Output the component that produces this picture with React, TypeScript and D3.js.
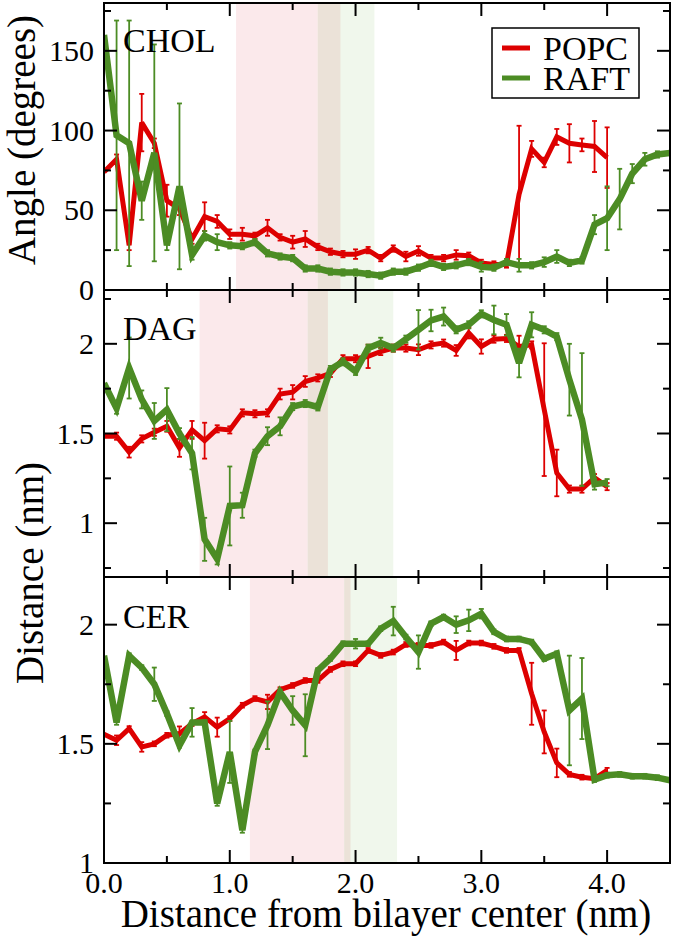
import React from 'react';
import * as d3 from 'd3';

const DIST = [0.0,0.1,0.2,0.3,0.4,0.5,0.6,0.7,0.8,0.9,1.0,1.1,1.2,1.3,1.4,1.5,1.6,1.7,1.8,1.9,2.0,2.1,2.2,2.3,2.4,2.5,2.6,2.7,2.8,2.9,3.0,3.1,3.2,3.3,3.4,3.5,3.6,3.7,3.8,3.9,4.0,4.1,4.2,4.3,4.4,4.5];

const PANEL_NAMES = ['CHOL', 'DAG', 'CER'];
const SERIES_NAMES = ['POPC', 'RAFT'];

// CHOL angle (degrees)
const CHOL_POPC = [74,82,28,105,92,56,51,32,46,43,35,35,34,39,33,30,32,27,24,22.5,22.5,25,20,26,21,24.5,20,20,22,21.5,17,16,16,60,88.5,80,96,92,91,90,83];
const CHOL_POPC_ERR = [0,3,3,18,3,10,4,3,9,4,3,4,2,5,2,4,5,2,2,2,3,2,2,2,3,3,2,2,3,2,2,2,2,43,5,3,5,12,4,16,19];
const CHOL_RAFT = [160,97,92,56,86,28,65,22,34,30,28,27.5,30,23,21,20,13.5,13.5,11.5,11,11,10,9,11.5,11.5,14,17,14.5,15.5,17.5,14.5,14,17.5,15.5,15.5,17.5,21,17,18.5,41,45,57,73,82,85,86];
const CHOL_RAFT_ERR = [0,72,77,12,68,3,52,3,3,5,2,2,2,2,2,2,2,2,2,2,2,2,2,2,2,2,2,2,2,2,3,2,2,4,2,3,4,2,2,6,20,19,6,4,2,0];

// DAG distance (nm)
const DAG_POPC = [1.485,1.485,1.396,1.47,1.507,1.54,1.42,1.52,1.46,1.526,1.52,1.615,1.61,1.615,1.72,1.73,1.79,1.81,1.835,1.917,1.917,1.93,1.957,1.976,1.976,1.967,1.994,2.004,1.963,2.06,1.985,2.026,2.03,1.985,1.994,1.633,1.28,1.19,1.19,1.254,1.204];
const DAG_POPC_ERR = [0,0.02,0.03,0.02,0.02,0.03,0.05,0.05,0.1,0.02,0.02,0.02,0.02,0.02,0.03,0.04,0.03,0.02,0.02,0.02,0.02,0.065,0.02,0.02,0.02,0.03,0.02,0.02,0.03,0.03,0.04,0.02,0.02,0.06,0.02,0.37,0.13,0.02,0.02,0.02,0.02];
const DAG_RAFT = [1.78,1.64,1.865,1.69,1.57,1.633,1.50,1.39,0.91,0.80,1.096,1.10,1.39,1.485,1.54,1.65,1.667,1.648,1.857,1.90,1.846,1.976,2.004,1.976,2.026,2.078,2.13,2.152,2.078,2.106,2.167,2.133,2.106,1.893,2.106,2.078,2.04,1.80,1.578,1.217,1.226];
const DAG_RAFT_ERR = [0,0.03,0.17,0.05,0.1,0.12,0.03,0.09,0.12,0.03,0.22,0.07,0.02,0.05,0.05,0.02,0.02,0.02,0.02,0.02,0.02,0.02,0.03,0.02,0.02,0.11,0.06,0.05,0.02,0.02,0.02,0.08,0.06,0.08,0.07,0.02,0.02,0.2,0.37,0.03,0.02];

// CER distance (nm)
const CER_POPC = [1.54,1.515,1.564,1.487,1.50,1.536,1.543,1.585,1.613,1.57,1.606,1.662,1.69,1.676,1.727,1.745,1.766,1.766,1.812,1.836,1.836,1.892,1.871,1.885,1.917,1.913,1.913,1.927,1.892,1.923,1.923,1.909,1.892,1.892,1.71,1.55,1.42,1.372,1.36,1.354,1.389];
const CER_POPC_ERR = [0,0.02,0.01,0.02,0.01,0.01,0.03,0.01,0.02,0.04,0.01,0.01,0.01,0.03,0.01,0.01,0.01,0.01,0.01,0.01,0.01,0.01,0.01,0.01,0.01,0.01,0.01,0.01,0.04,0.01,0.01,0.01,0.01,0.01,0.13,0.09,0.06,0.01,0.01,0.01,0.01];
const CER_RAFT = [1.87,1.59,1.87,1.82,1.75,1.627,1.494,1.59,1.59,1.25,1.466,1.137,1.466,1.578,1.717,1.64,1.578,1.808,1.858,1.92,1.92,1.92,1.983,2.015,1.948,1.885,2.004,2.032,2.0,2.018,2.046,1.97,1.94,1.94,1.927,1.857,1.878,1.64,1.69,1.35,1.368,1.372,1.364,1.364,1.358,1.347];
const CER_RAFT_ERR = [0,0.01,0.01,0.01,0.07,0.01,0.01,0.06,0.01,0.01,0.13,0.01,0.01,0.1,0.01,0.06,0.13,0.01,0.01,0.01,0.02,0.01,0.01,0.06,0.01,0.07,0.01,0.01,0.035,0.045,0.02,0.01,0.01,0.01,0.01,0.01,0.01,0.23,0.17,0.01,0.01,0.01,0.01,0.01,0.01,0];

const SERIES = [
  [[CHOL_POPC, CHOL_POPC_ERR], [CHOL_RAFT, CHOL_RAFT_ERR]],
  [[DAG_POPC, DAG_POPC_ERR], [DAG_RAFT, DAG_RAFT_ERR]],
  [[CER_POPC, CER_POPC_ERR], [CER_RAFT, CER_RAFT_ERR]],
];

const Y_DOMAINS = [[0, 180], [0.7, 2.3], [1, 2.2]];
const Y_MAJOR = [[0, 50, 100, 150], [1, 1.5, 2], [1, 1.5, 2]];
const Y_MINOR = [[25, 75, 125, 175], [0.75, 1.25, 1.75, 2.25], [1.25, 1.75]];
const X_MAJOR = [0, 1, 2, 3, 4];
const X_MINOR = [0.5, 1.5, 2.5, 3.5, 4.5];
const X_LABELS = ['0.0', '1.0', '2.0', '3.0', '4.0'];

const POPC_BAND = [[1.05, 1.88], [0.76, 1.78], [1.16, 1.96]];
const RAFT_BAND = [[1.70, 2.15], [1.62, 2.30], [1.91, 2.33]];

const COLORS = ['#dd0000', '#4c8c24'];
const WIDTHS = [5, 6.5];
const BAND_COLORS = ['#fbe9eb', '#f0f7ec'];
const OVERLAP_COLOR = '#ebe2d8';

const FONT = "'Liberation Serif', 'DejaVu Serif', serif";
const T: React.CSSProperties = { fontFamily: FONT };

const LEFT = 104;
const RIGHT = 670;
const TOPS = [3, 290, 577];
const BOTTOMS = [290, 577, 863];

export default function App() {
  const x = d3.scaleLinear().domain([0, 4.5]).range([LEFT, RIGHT]);

  const panels = PANEL_NAMES.map((name, p) => {
    const y = d3.scaleLinear().domain(Y_DOMAINS[p]).range([BOTTOMS[p], TOPS[p]]);
    const top = TOPS[p];
    const bottom = BOTTOMS[p];
    const [pa, pb] = POPC_BAND[p];
    const [ra, rb] = RAFT_BAND[p];
    const oa = Math.max(pa, ra);
    const ob = Math.min(pb, rb);
    const line = d3.line<number>().x((_, i) => x(DIST[i])).y((v) => y(v));
    return (
      <g key={name}>
        <rect x={x(pa)} y={top} width={x(pb) - x(pa)} height={bottom - top} fill={BAND_COLORS[0]} />
        <rect x={x(ra)} y={top} width={x(rb) - x(ra)} height={bottom - top} fill={BAND_COLORS[1]} />
        {ob > oa && <rect x={x(oa)} y={top} width={x(ob) - x(oa)} height={bottom - top} fill={OVERLAP_COLOR} />}
        <defs>
          <clipPath id={`clip${p}`}>
            <rect x={LEFT} y={top} width={RIGHT - LEFT} height={bottom - top} />
          </clipPath>
        </defs>
        <g clipPath={`url(#clip${p})`}>
          {SERIES[p].map(([vals, errs], s) => (
            <g key={s}>
              <path d={line(vals) || ''} fill="none" stroke={COLORS[s]} strokeWidth={WIDTHS[s]} strokeLinejoin="miter" strokeMiterlimit={3} />
              {vals.map((v, i) =>
                errs[i] > 0 ? (
                  <g key={i} stroke={COLORS[s]} strokeWidth={1.8}>
                    <line x1={x(DIST[i])} x2={x(DIST[i])} y1={y(v - errs[i])} y2={y(v + errs[i])} />
                    <line x1={x(DIST[i]) - 2.5} x2={x(DIST[i]) + 2.5} y1={y(v - errs[i])} y2={y(v - errs[i])} />
                    <line x1={x(DIST[i]) - 2.5} x2={x(DIST[i]) + 2.5} y1={y(v + errs[i])} y2={y(v + errs[i])} />
                  </g>
                ) : null
              )}
            </g>
          ))}
        </g>
        <g stroke="#000" strokeWidth={2}>
          {X_MAJOR.map((t) => (
            <g key={`xm${t}`}>
              <line x1={x(t)} x2={x(t)} y1={bottom} y2={bottom - 13} />
              <line x1={x(t)} x2={x(t)} y1={top} y2={top + 13} />
            </g>
          ))}
          {X_MINOR.map((t) => (
            <g key={`xn${t}`}>
              <line x1={x(t)} x2={x(t)} y1={bottom} y2={bottom - 7} />
              <line x1={x(t)} x2={x(t)} y1={top} y2={top + 7} />
            </g>
          ))}
          {Y_MAJOR[p].map((t) => (
            <g key={`ym${t}`}>
              <line x1={LEFT} x2={LEFT + 13} y1={y(t)} y2={y(t)} />
              <line x1={RIGHT} x2={RIGHT - 13} y1={y(t)} y2={y(t)} />
            </g>
          ))}
          {Y_MINOR[p].map((t) => (
            <g key={`yn${t}`}>
              <line x1={LEFT} x2={LEFT + 7} y1={y(t)} y2={y(t)} />
              <line x1={RIGHT} x2={RIGHT - 7} y1={y(t)} y2={y(t)} />
            </g>
          ))}
        </g>
        <rect x={LEFT} y={top} width={RIGHT - LEFT} height={bottom - top} fill="none" stroke="#000" strokeWidth={2} />
        {Y_MAJOR[p].map((t) => (
          <text key={`yl${t}`} x={94} y={y(t) + 10} textAnchor="end" fontSize={30} style={T}>
            {String(t)}
          </text>
        ))}
        <text x={123} y={[52, 340, 628][p]} fontSize={34} style={T}>{name}</text>
      </g>
    );
  });

  return (
    <svg width={674} height={940} style={{ position: 'absolute', left: 0, top: 0, background: '#fff' }}>
      <rect x={0} y={0} width={674} height={940} fill="#fff" />
      {panels}
      {X_MAJOR.map((t, i) => (
        <text key={`xl${t}`} x={x(t)} y={893} textAnchor="middle" fontSize={30} style={T}>
          {X_LABELS[i]}
        </text>
      ))}
      <text x={386} y={927} textAnchor="middle" fontSize={39} style={T}>
        Distance from bilayer center (nm)
      </text>
      <text transform="translate(35,140) rotate(-90)" textAnchor="middle" fontSize={39} style={T}>
        Angle (degrees)
      </text>
      <text transform="translate(43,573) rotate(-90)" textAnchor="middle" fontSize={39} style={T}>
        Distance (nm)
      </text>
      <rect x={492} y={28} width={147} height={70} fill="#fff" stroke="#000" strokeWidth={1.5} />
      {SERIES_NAMES.map((n, i) => (
        <g key={n}>
          <line x1={502} x2={530} y1={48 + i * 30} y2={48 + i * 30} stroke={COLORS[i]} strokeWidth={5} />
          <text x={543} y={60 + i * 30} fontSize={34} style={T}>{n}</text>
        </g>
      ))}
    </svg>
  );
}
